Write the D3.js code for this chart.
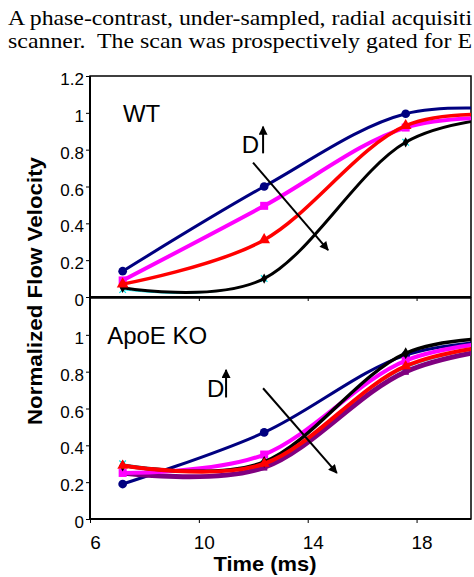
<!DOCTYPE html>
<html>
<head>
<meta charset="utf-8">
<script src="https://cdn.jsdelivr.net/npm/d3@7"></script>
<style>
body { margin: 0; background: #fff; }
svg { display: block; font-family: "Liberation Sans", Arial, sans-serif; }
</style>
</head>
<body>
<div id="chart"></div>
<script>
// time points (ms) - last one lies past the right edge of the plot
let timeMs = [7.2, 12.4, 17.6, 22.8];
let xTicks = [6, 10, 14, 18];
let yTicksTop = [0, 0.2, 0.4, 0.6, 0.8, 1, 1.2];
let yTicksBottom = [0, 0.2, 0.4, 0.6, 0.8, 1];

// WT (top panel)
let wtCyan    = [0.04, 0.10, 0.84, 0.99];
let wtBlack   = [0.05, 0.10, 0.84, 0.99];
let wtNavy    = [0.14, 0.60, 0.995, 1.00];
let wtMagenta = [0.09, 0.495, 0.92, 0.97];
let wtRed     = [0.07, 0.31, 0.93, 0.97];

// ApoE KO (bottom panel)
let koCyan    = [0.30, 0.30, 0.82, 0.97];
let koNavy    = [0.19, 0.47, 0.89, 0.98];
let koPurple  = [0.25, 0.28, 0.80, 0.96];
let koMagenta = [0.25, 0.35, 0.86, 0.98];
let koBlack   = [0.29, 0.31, 0.90, 0.98];
let koRed     = [0.29, 0.30, 0.83, 0.97];

// caption text above the figure, as far as it is visible
let captionLines = [
	"A phase-contrast, under-sampled, radial acquisiti",
	"scanner.  The scan was prospectively gated for E"
];

function initializeChart(){

	let svg = d3.select("#chart")
		.append("svg")
		.attr("width", 474)
		.attr("height", 577);

	let defs = svg.append("defs");
	defs.append("marker")
		.attr("id", "arrowHead")
		.attr("viewBox", "0 0 10 10")
		.attr("refX", 9)
		.attr("refY", 5)
		.attr("markerUnits", "userSpaceOnUse")
		.attr("markerWidth", 11)
		.attr("markerHeight", 9)
		.attr("orient", "auto")
		.append("path")
		.attr("d", "M0,0 L10,5 L0,10 Z")
		.attr("fill", "#000");

	svg.append("g")
		.style("font-family", "'Liberation Serif', 'Times New Roman', serif")
		.style("font-size", "21px")
		.style("white-space", "pre")
		.selectAll("text")
		.data(captionLines)
		.enter()
		.append("text")
		.attr("x", 8)
		.attr("y", (d, i) => 25 + i * 23)
		.attr("textLength", 464)
		.attr("lengthAdjust", "spacingAndGlyphs")
		.attr("xml:space", "preserve")
		.text(d => d);

	let xScale = d3.scaleLinear().domain([6, 20]).range([90, 471]);
	let yTop = d3.scaleLinear().domain([0, 1.2]).range([297, 76]);
	let yBottom = d3.scaleLinear().domain([0, 1.2]).range([519, 298]);

	let wtLines = [
		{ id: "wtCyan", values: wtCyan, color: "#00e5ee", width: 1, symbol: d3.symbolTimes, size: 30 },
		{ id: "wtBlack", values: wtBlack, color: "#000", width: 3, symbol: d3.symbolDiamond, size: 30 },
		{ id: "wtNavy", values: wtNavy, color: "#000080", width: 3, symbol: d3.symbolCircle, size: 60 },
		{ id: "wtMagenta", values: wtMagenta, color: "#ff00ff", width: 4, symbol: d3.symbolSquare, size: 64 },
		{ id: "wtRed", values: wtRed, color: "#ff0000", width: 3.5, symbol: d3.symbolTriangle, size: 60 }
	];

	let koLines = [
		{ id: "koCyan", values: koCyan, color: "#00e5ee", width: 1, symbol: d3.symbolTimes, size: 30 },
		{ id: "koNavy", values: koNavy, color: "#000080", width: 3, symbol: d3.symbolCircle, size: 60 },
		{ id: "koPurple", values: koPurple, color: "#800080", width: 5, symbol: d3.symbolSquare, size: 40 },
		{ id: "koMagenta", values: koMagenta, color: "#ff00ff", width: 4, symbol: d3.symbolSquare, size: 64 },
		{ id: "koBlack", values: koBlack, color: "#000", width: 3.5, symbol: d3.symbolDiamond, size: 40 },
		{ id: "koRed", values: koRed, color: "#ff0000", width: 4, symbol: d3.symbolTriangle, size: 50 }
	];

	drawPanel(svg, "top", xScale, yTop, wtLines, yTicksTop, false);
	drawPanel(svg, "bottom", xScale, yBottom, koLines, yTicksBottom, true);

	// group labels and the "D increasing" arrows
	drawLabel(svg, "WT", xScale(7.21), yTop(0.95), 24);
	drawLabel(svg, "D", xScale(11.58), yTop(0.78), 24);
	drawArrow(svg, xScale(12.36), yTop(0.78), xScale(12.36), yTop(0.925));
	drawArrow(svg, xScale(11.99), yTop(0.73), xScale(14.75), yTop(0.255));

	drawLabel(svg, "ApoE KO", xScale(6.63), yBottom(0.95), 24);
	drawLabel(svg, "D", xScale(10.3), yBottom(0.66), 24);
	drawArrow(svg, xScale(11.0), yBottom(0.66), xScale(11.0), yBottom(0.81));
	drawArrow(svg, xScale(12.36), yBottom(0.71), xScale(15.07), yBottom(0.25));

	// axis titles
	svg.append("text")
		.attr("x", 265)
		.attr("y", 571)
		.attr("text-anchor", "middle")
		.attr("textLength", 103)
		.attr("lengthAdjust", "spacingAndGlyphs")
		.style("font-size", "21px")
		.style("font-weight", "bold")
		.text("Time (ms)");

	svg.append("text")
		.attr("transform", "translate(42,291) rotate(-90)")
		.attr("text-anchor", "middle")
		.attr("textLength", 268)
		.attr("lengthAdjust", "spacingAndGlyphs")
		.style("font-size", "21px")
		.style("font-weight", "bold")
		.text("Normalized Flow Velocity");
}

function drawPanel(svg, name, xScale, yScale, lines, yTicks, showXLabels){

	let g = svg.append("g").attr("class", "panel-" + name);
	let x0 = xScale.range()[0], x1 = xScale.range()[1];
	let y0 = yScale.range()[0], y1 = yScale.range()[1];

	svg.select("defs").append("clipPath")
		.attr("id", "clip-" + name)
		.append("rect")
		.attr("x", x0)
		.attr("y", y1)
		.attr("width", x1 - x0)
		.attr("height", y0 - y1);

	// frame
	g.append("rect")
		.attr("x", x0)
		.attr("y", y1)
		.attr("width", x1 - x0)
		.attr("height", y0 - y1)
		.attr("fill", "none")
		.attr("stroke", "#000")
		.attr("stroke-width", 1.5);

	let line = d3.line()
		.x((d, i) => xScale(timeMs[i]))
		.y(d => yScale(d))
		.curve(d3.curveCatmullRom.alpha(0));

	let plot = g.append("g").attr("clip-path", "url(#clip-" + name + ")");

	lines.forEach(function(s){
		plot.append("path")
			.datum(s.values)
			.attr("fill", "none")
			.attr("stroke", s.color)
			.attr("stroke-width", s.width)
			.attr("stroke-linejoin", "round")
			.attr("stroke-linecap", "round")
			.attr("d", line);

		let isStroke = s.symbol === d3.symbolTimes;
		plot.selectAll(null)
			.data(s.values)
			.enter()
			.append("path")
			.attr("transform", (d, i) => "translate(" + xScale(timeMs[i]) + "," + yScale(d) + ")")
			.attr("d", d3.symbol().type(s.symbol).size(s.size))
			.attr("fill", isStroke ? "none" : s.color)
			.attr("stroke", isStroke ? s.color : "none")
			.attr("stroke-width", 1.2);
	});

	// y axis
	let yAxis = g.append("g")
		.attr("transform", "translate(" + x0 + ",0)")
		.call(d3.axisLeft(yScale).tickValues(yTicks).tickSize(4).tickPadding(2).tickFormat(d => String(d)));
	yAxis.select(".domain").remove();
	yAxis.selectAll("text")
		.attr("dy", "0.5em")
		.style("font-size", "17px")
		.style("font-family", "'Liberation Sans', Arial, sans-serif")
		.attr("fill", "#000");

	// x axis
	let xAxis = g.append("g")
		.attr("transform", "translate(0," + y0 + ")")
		.call(d3.axisBottom(xScale).tickValues(xTicks).tickSize(4).tickFormat(showXLabels ? (d => String(d)) : ""));
	xAxis.select(".domain").remove();
	xAxis.selectAll("text")
		.attr("y", 30)
		.attr("dy", 0)
		.attr("dx", 5)
		.style("font-size", "19px")
		.style("font-family", "'Liberation Sans', Arial, sans-serif")
		.attr("fill", "#000");

	// heavier left and bottom axis lines
	g.append("line")
		.attr("x1", x0).attr("x2", x0)
		.attr("y1", y1).attr("y2", y0)
		.attr("stroke", "#000").attr("stroke-width", 2);
	g.append("line")
		.attr("x1", x0).attr("x2", x1)
		.attr("y1", y0).attr("y2", y0)
		.attr("stroke", "#000").attr("stroke-width", 2);
}

function drawLabel(svg, txt, x, y, size){
	svg.append("text")
		.attr("x", x)
		.attr("y", y)
		.style("font-size", size + "px")
		.text(txt);
}

function drawArrow(svg, xa, ya, xb, yb){
	svg.append("line")
		.attr("x1", xa).attr("y1", ya)
		.attr("x2", xb).attr("y2", yb)
		.attr("stroke", "#000")
		.attr("stroke-width", 2)
		.attr("marker-end", "url(#arrowHead)");
}

initializeChart();
</script>
</body>
</html>
